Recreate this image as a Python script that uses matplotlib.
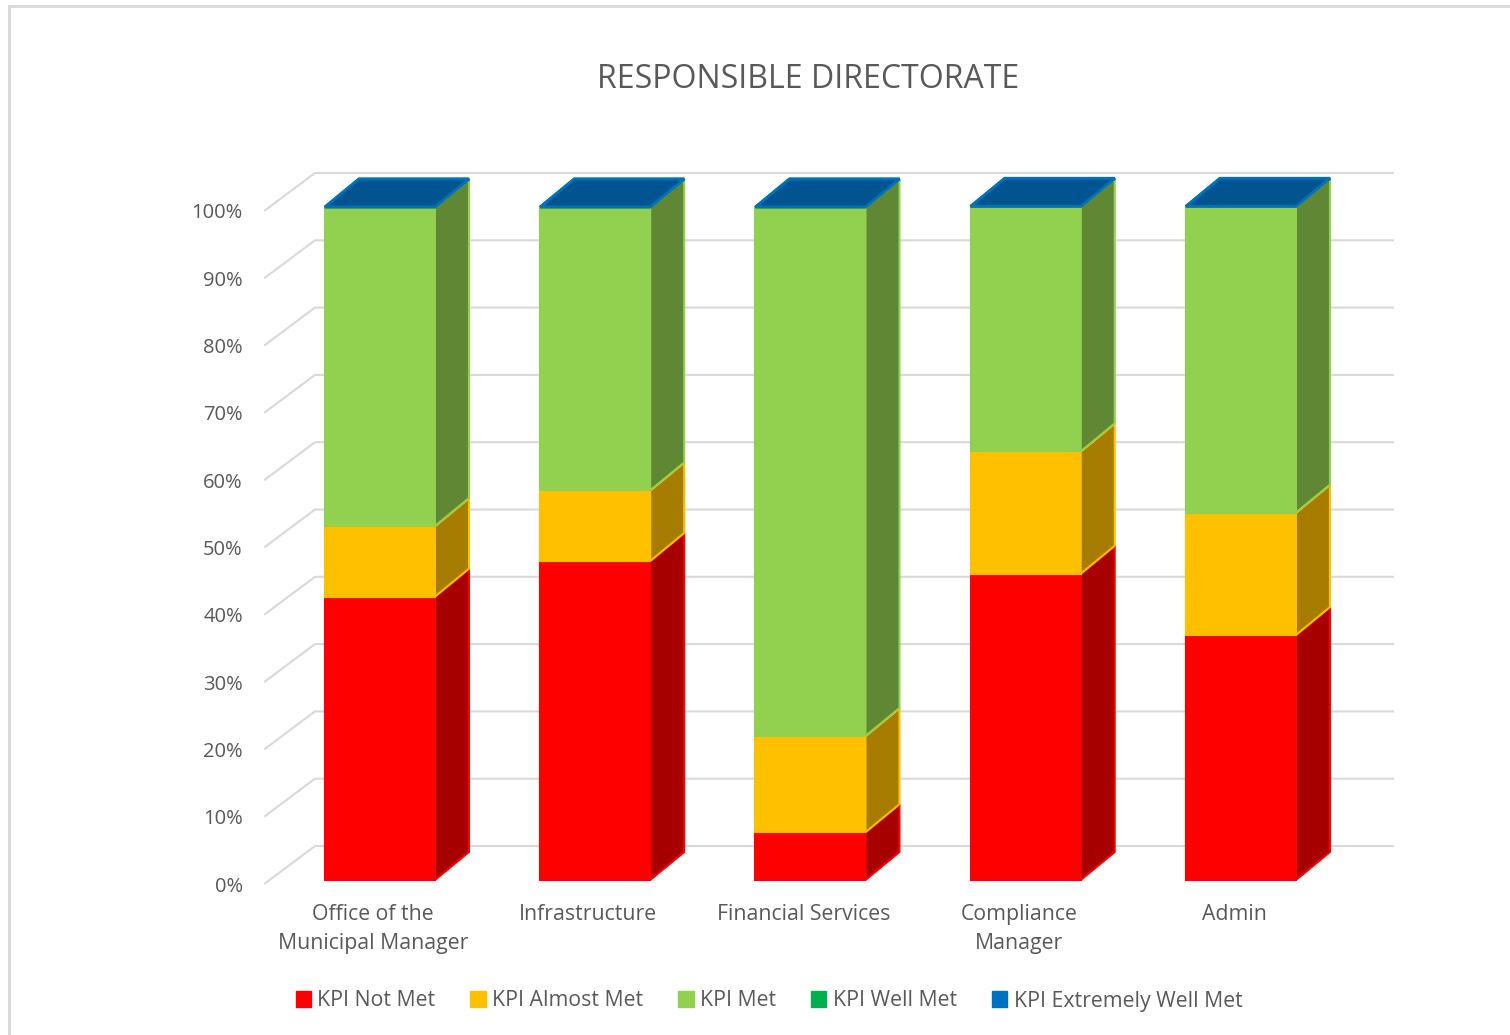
import matplotlib
matplotlib.use("Agg")
import matplotlib.pyplot as plt
from matplotlib.colors import to_rgb
from matplotlib.patches import Patch, Polygon, Rectangle
from matplotlib.transforms import ScaledTranslation
import numpy as np

# data (share of KPIs per directorate, %)
categories = ["Office of the\nMunicipal Manager", "Infrastructure", "Financial Services",
              "Compliance\nManager", "Admin"]
series_names = ["KPI Not Met", "KPI Almost Met", "KPI Met", "KPI Well Met", "KPI Extremely Well Met"]
not_met = [42.1, 47.4, 7.1, 45.5, 36.4]
almost_met = [10.5, 10.5, 14.3, 18.2, 18.2]
met = [47.4, 42.1, 78.6, 36.4, 45.5]
well_met = [0, 0, 0, 0, 0]
extremely_well_met = [0, 0, 0, 0, 0]
y_ticks = list(range(0, 101, 10))

series = [not_met, almost_met, met, well_met, extremely_well_met]
base_colors = ["#FF0000", "#FFC000", "#92D050", "#00B050", "#0070C0"]
TEXT = "#595959"
GRID = "#D9D9D9"

# fake 3d geometry, in data units
BAR_W = 0.511
DX, DY = 0.158, 4.16          # bar depth
WALL_DX, WALL_DY = 0.232, 5.05  # back wall offset

plt.rcParams["font.family"] = ["Open Sans", "DejaVu Sans"]


def shade(c, f):
    return tuple(v * f for v in to_rgb(c))


fig = plt.figure(figsize=(15.1, 10.35), dpi=100)
ax = fig.add_axes([265 / 1510, 155 / 1035, 1078 / 1510, 673 / 1035])
ax.set_xlim(-0.534, 4.474)
ax.set_ylim(0, 100)
for s in ax.spines.values():
    s.set_visible(False)

# back wall gridlines
x0, x1 = ax.get_xlim()
for v in y_ticks:
    ax.plot([x0, x0 + WALL_DX, x1 + WALL_DX], [v - 0.5, v + WALL_DY, v + WALL_DY],
            color=GRID, lw=1.5, clip_on=False, zorder=0)

x = np.arange(len(categories))
bottom = np.zeros(len(categories))
for k, vals in enumerate(series):
    vals = np.asarray(vals, dtype=float)
    col = base_colors[k]
    z = 2 + k
    ax.bar(x, vals, BAR_W, bottom=bottom, color=col, edgecolor=col, lw=1.5,
           zorder=z, clip_on=False)
    for xi, b, h in zip(x, bottom, vals):
        xl, xr, t = xi - BAR_W / 2, xi + BAR_W / 2, b + h
        side = Polygon([(xr, b), (xr + DX, b + DY), (xr + DX, t + DY), (xr, t)],
                       closed=True, facecolor=shade(col, 0.65), edgecolor=col, lw=1.5,
                       zorder=z, clip_on=False)
        top = Polygon([(xl, t), (xr, t), (xr + DX, t + DY), (xl + DX, t + DY)],
                      closed=True, facecolor=shade(col, 0.75), edgecolor=col, lw=2,
                      zorder=z, clip_on=False)
        ax.add_patch(side)
        ax.add_patch(top)
    bottom += vals

ax.set_yticks(y_ticks)
ax.set_yticklabels([f"{v}%" for v in y_ticks])
ax.set_xticks(x)
ax.set_xticklabels(categories, linespacing=1.55)
ax.tick_params(axis="y", length=0, pad=16, labelsize=14.5, labelcolor=TEXT)
ax.tick_params(axis="x", length=0, pad=17, labelsize=15.3, labelcolor=TEXT)
for lbl in ax.get_yticklabels():
    lbl.set_transform(lbl.get_transform() + ScaledTranslation(0, -0.04, fig.dpi_scale_trans))
for lbl in ax.get_xticklabels():
    lbl.set_transform(lbl.get_transform() + ScaledTranslation(-0.07, 0, fig.dpi_scale_trans))

fig.text(808 / 1510, 1 - 80 / 1035, "RESPONSIBLE DIRECTORATE", ha="center", va="center",
         fontsize=23, color=TEXT)

handles = [Patch(facecolor=c, edgecolor=c) for c in base_colors]
fig.legend(handles, series_names, loc="center", bbox_to_anchor=(769 / 1510, 34 / 1035),
           ncol=5, frameon=False, fontsize=15.3, labelcolor=TEXT, handlelength=0.72,
           handleheight=0.72, handletextpad=0.3, columnspacing=1.65)

# chart border (only top/left edges fall inside the picture)
fig.add_artist(Rectangle((9 / 1510, -0.1), 1.2, 1.1 - 6 / 1035, transform=fig.transFigure,
                         fill=False, edgecolor=GRID, lw=2))

fig.savefig("out.png", dpi=100)
